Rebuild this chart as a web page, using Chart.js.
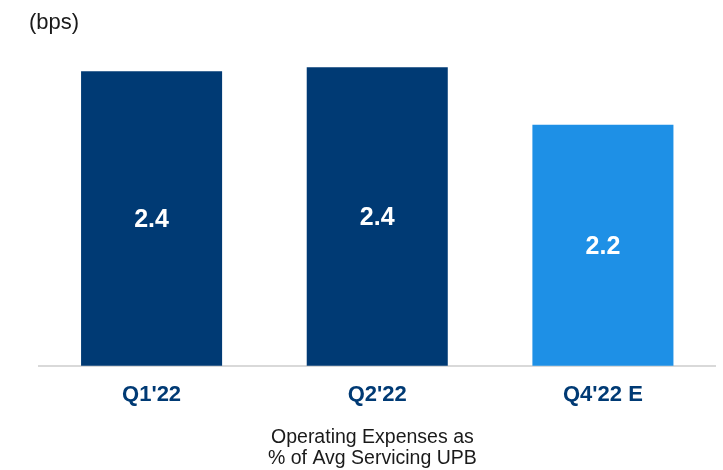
<!DOCTYPE html>
<html>
<head>
<meta charset="utf-8">
<script src="https://cdn.jsdelivr.net/npm/chart.js@4/dist/chart.umd.min.js"></script>
<style>
  html, body { margin: 0; padding: 0; background: #ffffff; }
  #wrap { width: 723px; height: 470px; position: relative; }
</style>
</head>
<body>
<div id="wrap"><canvas id="c"></canvas></div>
<script>
const categories = ["Q1'22", "Q2'22", "Q4'22 E"];
const values = [2.4, 2.415, 2.2];
const valueLabels = ["2.4", "2.4", "2.2"];
const unitLabel = "(bps)";
const footerLines = ["Operating Expenses as", "% of Avg Servicing UPB"];

const NAVY = '#003A74';
const LIGHT = '#1E90E6';
const FONT = "'Liberation Sans', Arial, sans-serif";

const valueLabelPlugin = {
  id: 'valueLabels',
  afterDatasetsDraw(chart) {
    const ctx = chart.ctx;
    const meta = chart.getDatasetMeta(0);
    const bottom = chart.chartArea.bottom;
    ctx.save();
    ctx.fillStyle = '#ffffff';
    ctx.font = "bold 25px " + FONT;
    ctx.textAlign = 'center';
    ctx.textBaseline = 'middle';
    meta.data.forEach((bar, i) => {
      const y = (bar.y + Math.min(bar.base, bottom)) / 2;
      ctx.fillText(valueLabels[i], bar.x, y + 2);
    });
    ctx.restore();
  }
};

new Chart(document.getElementById('c'), {
  type: 'bar',
  data: {
    labels: categories,
    datasets: [{
      data: values,
      backgroundColor: [NAVY, NAVY, LIGHT],
      borderWidth: 0,
      categoryPercentage: 1.0,
      barPercentage: 0.625
    }]
  },
  options: {
    responsive: true,
    maintainAspectRatio: false,
    animation: false,
    layout: { padding: { left: 29, right: 7.25, top: 0, bottom: 1 } },
    plugins: {
      legend: { display: false },
      tooltip: { enabled: false },
      subtitle: {
        display: true,
        text: unitLabel,
        position: 'top',
        align: 'start',
        color: '#1a1a1a',
        font: { family: FONT, size: 22, weight: 'normal', lineHeight: 1.2 },
        padding: { top: 10, bottom: 8 }
      },
      title: {
        display: true,
        text: footerLines,
        position: 'bottom',
        align: 'center',
        color: '#1a1a1a',
        font: { family: FONT, size: 19.5, weight: 'normal', lineHeight: 1.07 },
        padding: { top: 3, bottom: 0 }
      }
    },
    scales: {
      x: {
        grid: { display: false, drawTicks: false },
        border: { display: true, color: '#D9D9D9', width: 2 },
        ticks: {
          color: NAVY,
          padding: 16,
          font: { family: FONT, size: 22, weight: 'bold', lineHeight: 1.2 }
        }
      },
      y: {
        display: true,
        min: 1.3,
        max: 2.5,
        grid: { display: false, drawTicks: false },
        border: { display: false },
        ticks: { display: false },
        afterFit(scale) { scale.width = 9.75; }
      }
    }
  },
  plugins: [valueLabelPlugin]
});
</script>
</body>
</html>
